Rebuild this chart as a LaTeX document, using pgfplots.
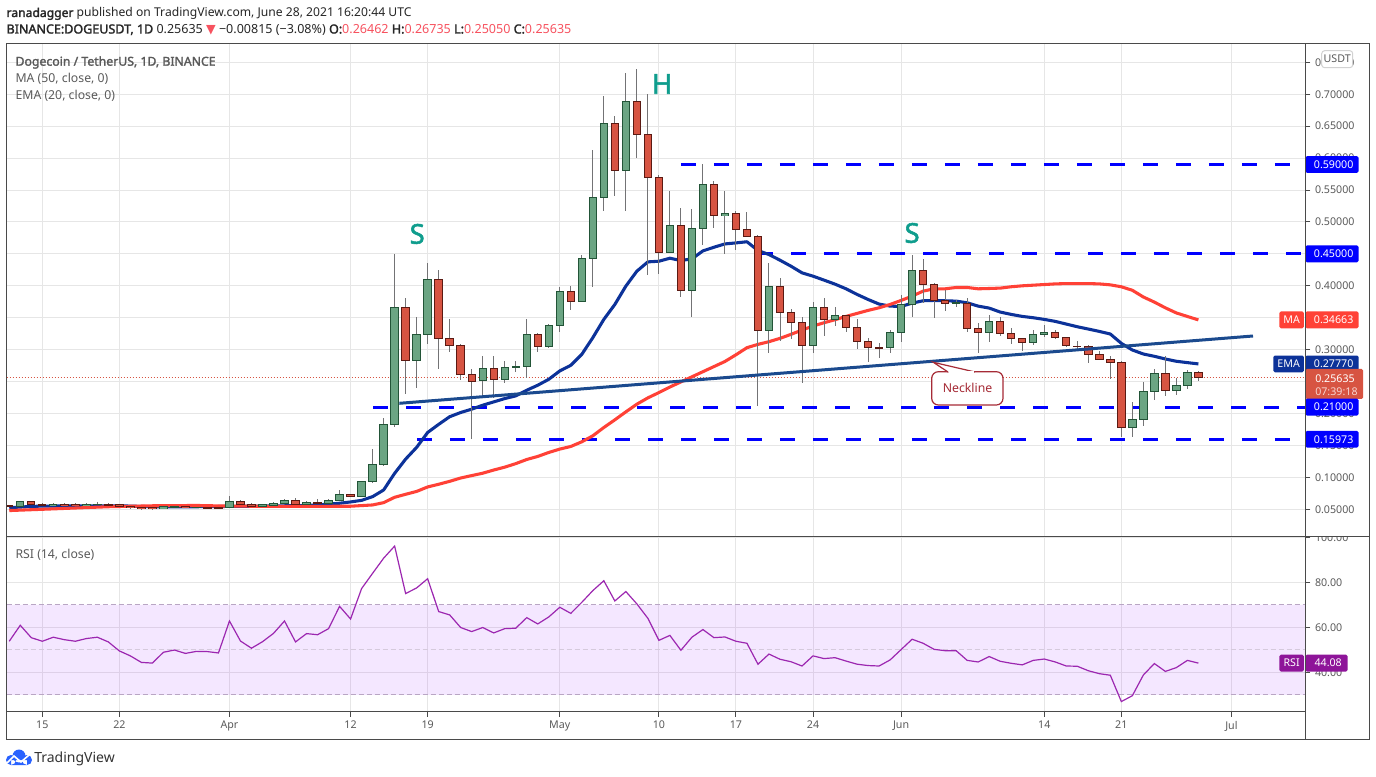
\documentclass[border=0pt]{standalone}
\usepackage{fontspec}
\setmainfont{Noto Sans}[AutoFakeBold=2]
\newfontfamily\symfont{DejaVu Sans}
\usepackage{pgfplots}
\usepackage{pgfplotstable}
\pgfplotsset{compat=1.18}

\definecolor{gridc}{HTML}{E6E6E6}
\definecolor{framec}{HTML}{4A4A4A}
\definecolor{tickc}{HTML}{5A5A5A}
\definecolor{upfill}{HTML}{6BA583}
\definecolor{upline}{HTML}{225437}
\definecolor{dnfill}{HTML}{D75442}
\definecolor{dnline}{HTML}{5B1A13}
\definecolor{wickc}{HTML}{737375}
\definecolor{emac}{HTML}{0C3299}
\definecolor{mac}{HTML}{FF4136}
\definecolor{neck}{HTML}{1B4A8E}
\definecolor{lvl}{HTML}{0000FF}
\definecolor{rsic}{HTML}{9C27B0}
\definecolor{rsitag}{HTML}{8E1599}
\definecolor{bandc}{HTML}{9915FF}
\definecolor{dashc}{HTML}{B9A6C4}
\definecolor{teal}{HTML}{0F9D8D}
\definecolor{callout}{HTML}{A62B36}
\definecolor{hdrred}{HTML}{F7525F}
\definecolor{tvblue}{HTML}{2962FF}

% day 0 = 15 March
\pgfplotstableread{
d o h l c
-2 .054 .0625 .0535 .062
1 .0557 .0595 .055 .058
4 .0555 .0595 .055 .0575
5 .0575 .061 .0565 .0578
11 .051 .0545 .0505 .054
12 .0535 .0555 .053 .055
14 .0525 .054 .052 .0535
17 .0526 .0708 .0525 .0625
20 .0542 .0585 .0538 .0578
21 .0557 .0612 .0555 .0594
22 .0589 .0655 .0585 .064
24 .0573 .0625 .0568 .061
26 .0594 .0655 .059 .064
27 .0635 .0805 .0628 .0735
29 .0698 .095 .0685 .0938
30 .0932 .145 .0915 .12
31 .12 .1927 .1185 .1828
32 .1828 .4505 .179 .3656
34 .2828 .3516 .2406 .3234
35 .3234 .436 .309 .4094
40 .2516 .2906 .2276 .2703
42 .2531 .2818 .248 .2719
43 .2719 .2818 .2651 .2735
44 .2734 .3484 .2557 .3234
46 .3047 .3406 .3026 .3375
47 .3375 .3984 .328 .3906
49 .375 .4484 .375 .4422
50 .4422 .613 .3979 .539
51 .539 .6974 .5167 .6547
53 .5812 .7328 .5167 .689
57 .4516 .549 .4516 .4938
59 .3922 .5203 .351 .4891
60 .4891 .5906 .4635 .5594
62 .5094 .5484 .4495 .5135
66 .3297 .436 .2948 .3984
70 .3062 .375 .2948 .3667
72 .3469 .3672 .337 .3531
77 .3031 .3312 .2948 .3266
78 .3266 .386 .312 .3703
79 .3703 .449 .351 .4234
83 .3719 .3781 .3667 .3734
86 .3266 .3547 .3125 .3437
90 .3115 .3307 .3068 .324
91 .324 .338 .3193 .3271
99 .1786 .2177 .1625 .1911
100 .1911 .249 .1797 .2349
101 .2349 .2698 .2219 .263
103 .2365 .2552 .2297 .2443
104 .2443 .2682 .2391 .2646
}\upcandles

\pgfplotstableread{
d o h l c
-3 .0555 .0565 .054 .0545
-1 .062 .0635 .0565 .0573
0 .058 .0595 .0555 .0565
2 .058 .0595 .0555 .056
3 .058 .0595 .0555 .0562
6 .0578 .0595 .0565 .0565
7 .0578 .0585 .0535 .0542
8 .055 .0555 .0505 .0525
9 .0535 .054 .0495 .051
10 .0535 .054 .0495 .051
13 .055 .0555 .052 .0525
15 .053 .0535 .0515 .0525
16 .053 .0535 .0505 .0522
18 .0625 .064 .0565 .0573
19 .0578 .0595 .054 .0542
23 .064 .0675 .0568 .0573
25 .061 .0655 .0585 .0594
28 .0735 .0745 .0685 .07
33 .3656 .381 .2307 .2828
36 .4094 .425 .2698 .3172
37 .3172 .3484 .2964 .3062
38 .3062 .3094 .2526 .261
39 .261 .2703 .16 .25
41 .2703 .2906 .2245 .2531
45 .3234 .3266 .2964 .3047
48 .3906 .4 .362 .375
52 .6547 .6661 .5401 .5812
54 .689 .7391 .5995 .6375
55 .6375 .7005 .4167 .5703
56 .5703 .5734 .4182 .4516
58 .4938 .5219 .3823 .3922
61 .5594 .564 .4901 .5094
63 .5135 .5172 .4557 .4875
64 .4875 .5156 .4766 .4766
65 .4766 .4802 .212 .3297
67 .3984 .4125 .3135 .3578
68 .3578 .3641 .3172 .3422
69 .3422 .3516 .2484 .3062
71 .3667 .3812 .3214 .3469
73 .3531 .3531 .3276 .3344
74 .3344 .3484 .301 .3125
75 .3125 .3187 .2807 .3031
76 .3031 .311 .287 .3029
80 .4234 .4422 .3734 .4016
81 .4016 .4047 .3495 .3766
82 .3766 .3937 .3604 .3719
84 .3719 .3812 .3281 .3328
85 .3328 .3422 .2948 .3266
87 .3437 .351 .3219 .3255
88 .3255 .3333 .3094 .3177
89 .3177 .3177 .2984 .3115
92 .3271 .3307 .316 .3193
93 .3193 .3193 .3047 .3068
94 .3057 .313 .3016 .3047
95 .3047 .3068 .2797 .2927
96 .2927 .2984 .2849 .2849
97 .2849 .2901 .2547 .2802
98 .2802 .2818 .1635 .1786
102 .263 .2901 .2281 .2365
105 .26462 .26735 .2505 .25635
}\dncandles

\pgfplotstableread{
d v
-3 .0525
-2 .0535
-1 .0545
0 .055
3 .0555
7 .0555
10 .054
14 .054
17 .0545
20 .055
24 .056
26 .058
27 .0595
28 .0615
29 .064
30 .0698
31 .0802
32 .1063
33 .1286
34 .147
35 .1703
36 .183
37 .195
38 .2016
39 .2068
40 .213
41 .2182
42 .2234
43 .2276
44 .2365
45 .2443
46 .2536
47 .2667
48 .2755
49 .2927
50 .3188
51 .3474
52 .3708
53 .3995
54 .4229
55 .4375
56 .4385
57 .4432
58 .4396
59 .4422
60 .4547
61 .4604
62 .4656
63 .4672
64 .4690
65 .4552
66 .449
67 .4401
68 .4307
69 .4203
70 .4151
71 .4089
72 .4026
73 .3953
74 .3865
75 .3786
76 .3714
77 .3682
78 .3677
79 .3729
80 .3766
81 .3771
82 .3766
83 .376
84 .3734
85 .3682
86 .3651
87 .3589
88 .3552
89 .3521
90 .35
91 .3474
92 .3443
93 .3401
94 .3359
95 .3323
96 .3286
97 .3245
98 .3099
99 .2995
100 .2932
101 .2896
102 .2854
103 .2818
104 .2797
105 .2777
}\ema

\pgfplotstableread{
d v
-3 .048
0 .050
3 .052
6 .054
10 .0555
14 .056
17 .055
22 .0545
28 .0548
30 .0568
31 .0604
32 .0688
33 .0735
34 .078
35 .085
36 .0892
37 .0938
38 .099
39 .1028
40 .1065
41 .1115
42 .116
43 .1215
44 .128
45 .1328
46 .139
47 .1443
48 .1484
49 .1557
50 .1651
51 .1781
52 .1901
53 .2026
54 .2146
55 .2245
56 .2328
57 .2415
58 .2495
59 .2575
60 .2655
61 .2735
62 .2815
63 .292
64 .3031
65 .3083
66 .3125
67 .3177
68 .324
69 .3307
70 .337
71 .3422
72 .3469
73 .3521
74 .3568
75 .3615
76 .3656
77 .3708
78 .3771
79 .3839
80 .3917
81 .3953
82 .3953
83 .3974
84 .3974
85 .3953
86 .3958
87 .3964
88 .3985
89 .4
90 .401
91 .402
92 .403
93 .4035
94 .4035
95 .4035
96 .403
97 .4015
98 .3985
99 .393
100 .3825
101 .3745
102 .3655
103 .3575
104 .352
105 .3466
}\mavg

\pgfplotstableread{
d v
-3 53.8
-2 60.9
-1 55.4
0 53.8
1 55.6
2 54.5
3 53.8
4 55
5 55.6
6 53.5
7 49.5
8 47.3
9 44.4
10 44.1
11 48.9
12 49.9
13 48.4
14 49.3
15 49.2
16 48.6
17 62.8
18 53.9
19 50.7
20 53.6
21 57.3
22 62.8
23 53.5
24 57.2
25 56.7
26 59.4
27 69.3
28 63.7
29 77.2
30 84
31 90.7
32 96.1
33 75
34 77.5
35 81.6
36 67
37 65.5
38 59.9
39 58.1
40 59.9
41 57.5
42 59.4
43 59.6
44 64.3
45 61.5
46 64.6
47 68.9
48 66.2
49 71.1
50 76.3
51 80.7
52 71.7
53 75.9
54 70.4
55 64
56 54.2
57 56.4
58 49.8
59 55.6
60 59
61 55.4
62 55.7
63 53.8
64 52.9
65 43.6
66 48.1
67 45.8
68 44.7
69 42.8
70 47.3
71 46.1
72 46.5
73 45
74 43.6
75 43
76 42.8
77 45.5
78 50.1
79 54.7
80 52.9
81 50.2
82 49.6
83 49.6
84 45.3
85 44.6
86 47
87 44.9
88 44
89 43.3
90 45.3
91 45.9
92 44.6
93 42.8
94 42.7
95 40.7
96 39.4
97 38.7
98 27
99 29.6
100 38.8
101 43.9
102 40.4
103 42.1
104 45.3
105 44.08
}\rsi

\pgfplotsset{
  pane/.style={
    scale only axis, clip=true,
    xmin=-3.25, xmax=114.71, width=974.1pt,
    xtick={0,7,17,28,35,47,56,63,70,78,91,98,108},
    xmajorgrids, ymajorgrids,
    grid style={line width=.75pt, gridc},
    axis line style={line width=.75pt, framec},
    tick style={line width=.75pt, framec},
    ytick pos=right, yticklabel pos=right,
    tick align=outside, major tick length=3.75pt,
    scaled y ticks=false,
    /pgf/number format/assume math mode=true,
  },
  % wicks and candle bodies are drawn as thick error bars around the mid point
  candlebar/.style 2 args={draw=none, mark=none, forget plot,
    error bars/.cd, y dir=both, y explicit, error mark=none,
    error bar style={line width=#1, draw=#2, solid}},
}
\newcommand\drawcandles[3]{%
  \addplot[candlebar={.75pt}{wickc}] table[x=d, y expr={(\thisrow{h}+\thisrow{l})/2}, y error expr={(\thisrow{h}-\thisrow{l})/2}] {#1};
  \addplot[candlebar={6.3pt}{#3}] table[x=d, y expr={(\thisrow{o}+\thisrow{c})/2}, y error expr={abs(\thisrow{o}-\thisrow{c})/2+0.0008}] {#1};
  \addplot[candlebar={4.8pt}{#2}] table[x=d, y expr={(\thisrow{o}+\thisrow{c})/2}, y error expr={max(abs(\thisrow{o}-\thisrow{c})/2-0.0008,0)}] {#1};
}

\tikzset{
  px/.style={x=.75pt, y=-.75pt, yshift=582pt},
  txt/.style={font=\fontsize{9.2}{11}\selectfont, inner sep=0pt, anchor=base west},
  tag/.style={rounded corners=1.2pt, minimum height=12.6pt, inner sep=0pt, outer sep=0pt, text=white, font=\fontsize{8}{10}\selectfont},
}

\begin{document}
\begin{tikzpicture}
\path[use as bounding box, fill=white] (0,0) rectangle (1032pt,582pt);

% RSI pane
\begin{axis}[pane, at={(4.875pt,48.375pt)}, anchor=south west, height=131.4pt,
    ymin=22.58, ymax=100.44, ytick={40,60,80,100},
    yticklabel style={/pgf/number format/.cd, fixed, fixed zerofill, precision=2, /tikz/.cd,
      font=\fontsize{8}{10}\selectfont, text=tickc},
    xticklabels={15,22,Apr,12,19,May,10,17,24,Jun,14,21,Jul},
    xtick pos=bottom,
    xticklabel style={font=\fontsize{8}{10}\selectfont, text=tickc}]
  \addplot[draw=none, fill=bandc, fill opacity=.1, forget plot] coordinates {(-3.25,70)(114.71,70)(114.71,30)(-3.25,30)} \closedcycle;
  \addplot[line width=.75pt, color=dashc, dash pattern=on 3.75pt off 2.25pt] coordinates {(-3.25,70)(114.71,70)};
  \addplot[line width=.75pt, color=dashc!60, dash pattern=on 3.75pt off 2.25pt] coordinates {(-3.25,50)(114.71,50)};
  \addplot[line width=.75pt, color=dashc, dash pattern=on 3.75pt off 2.25pt] coordinates {(-3.25,30)(114.71,30)};
  \addplot[line width=.9pt, rsic] table[x=d, y=v] {\rsi};
  \coordinate (trsi) at (axis cs:114.71,44.08);
\end{axis}
\fill[white, px] (1306,520) rectangle (1368,536);

% price pane
\begin{axis}[pane, at={(4.875pt,179.775pt)}, anchor=south west, height=369.75pt,
    ymin=0.0077, ymax=0.7798,
    ytick={.05,.10,.15,.20,.25,.30,.35,.40,.45,.50,.55,.60,.65,.70,.75},
    yticklabel style={/pgf/number format/.cd, fixed, fixed zerofill, precision=5, /tikz/.cd,
      font=\fontsize{8}{10}\selectfont, text=tickc},
    xticklabels={}, xtick style={draw=none}]
  \addplot[line width=2.25pt, lvl, dash pattern=on 11.25pt off 13.5pt] coordinates {(58,.59)(114.71,.59)};
  \addplot[line width=2.25pt, lvl, dash pattern=on 11.25pt off 13.5pt] coordinates {(65,.45)(114.71,.45)};
  \addplot[line width=2.25pt, lvl, dash pattern=on 11.25pt off 13.5pt] coordinates {(30.04,.21)(114.71,.21)};
  \addplot[line width=2.25pt, lvl, dash pattern=on 11.25pt off 13.5pt] coordinates {(34.03,.15973)(114.71,.15973)};
  \addplot[line width=.75pt, dnfill, dash pattern=on .75pt off 1.5pt] coordinates {(-3.25,.25635)(114.71,.25635)};
  \addplot[line width=2.3pt, emac, line join=round] table[x=d, y=v] {\ema};
  \addplot[line width=2.3pt, mac, line join=round] table[x=d, y=v] {\mavg};
  \drawcandles{\upcandles}{upfill}{upline}
  \drawcandles{\dncandles}{dnfill}{dnline}
  \addplot[line width=2.25pt, neck] coordinates {(32.43,.216)(109.96,.3214)};
  \node[teal, font=\fontsize{20.5}{21}\selectfont\bfseries] at (axis cs:34.05,.4812) {S};
  \node[teal, font=\fontsize{20.5}{21}\selectfont\bfseries] at (axis cs:56.3,.7161) {H};
  \node[teal, font=\fontsize{20.5}{21}\selectfont\bfseries] at (axis cs:79,.4827) {S};
  \coordinate (t59) at (axis cs:114.71,.59);
  \coordinate (t45) at (axis cs:114.71,.45);
  \coordinate (tma) at (axis cs:114.71,.34663);
  \coordinate (tema) at (axis cs:114.71,.2777);
  \coordinate (tlast) at (axis cs:114.71,.25635);
  \coordinate (t21) at (axis cs:114.71,.21);
  \coordinate (t16) at (axis cs:114.71,.15973);
\end{axis}

% price tags
\foreach \c/\col/\val in {t59/lvl/0.59000, t45/lvl/0.45000, tma/mac/0.34663, tema/emac/0.27770, t16/lvl/0.15973} {
  \node[tag, fill=\col, anchor=west, minimum width=40pt] at (\c) {\hspace*{2.5pt}\val};
}
\node[tag, fill=mac, anchor=east, minimum width=18.5pt] at ([xshift=-1pt]tma) {MA};
\node[tag, fill=emac, anchor=east, minimum width=23pt] at ([xshift=-1pt]tema) {EMA};
\node[tag, fill=dnfill, anchor=north west, minimum width=43.4pt, minimum height=22.5pt, yshift=6.45pt] at (tlast) {};
\node[tag, fill=lvl, anchor=west, minimum width=40pt] at (t21) {\hspace*{2.5pt}0.21000};
\node[tag, fill=rsitag, anchor=west, minimum width=31.8pt] at (trsi) {\hspace*{2.5pt}44.08};
\node[tag, fill=rsitag, anchor=east, minimum width=18.5pt] at ([xshift=-1pt]trsi) {RSI};

\begin{scope}[px]
  \draw[framec, line width=.75pt] (6.5,43.3) rectangle (1369.3,739.3);
  \draw[framec, line width=.75pt] (1305.3,43.3) -- (1305.3,739.3);
  \draw[framec, line width=.75pt] (6.5,711.5) -- (1305.3,711.5);
  \draw[framec, line width=.75pt] (6.5,536.3) -- (1369.3,536.3);

  \node[txt, font=\fontsize{8}{10}\selectfont, text=white] at (1315,382) {0.25635};
  \node[txt, font=\fontsize{8}{10}\selectfont, text=white!75!dnfill] at (1315,395) {07:39:18};

  % header
  \node[txt, font=\fontsize{9.1}{11}\selectfont, text=black!85] at (6.3,17) {\textbf{ranadagger} published on TradingView.com, June 28, 2021 16:20:44 UTC};
  \node[txt, font=\fontsize{9.4}{11}\selectfont, text=black!85] at (6.3,33.5) {\textbf{BINANCE:DOGEUSDT, 1D}\ 0.25635 {\symfont\color{hdrred}▼} −0.00815 (−3.08\%) \textbf{O:}{\color{hdrred}0.26462} \textbf{H:}{\color{hdrred}0.26735} \textbf{L:}{\color{hdrred}0.25050} \textbf{C:}{\color{hdrred}0.25635}};

  % legend
  \node[txt, text=tickc] at (15.3,65.7) {\textbf{Dogecoin / TetherUS, 1D, BINANCE}};
  \node[txt, text=tickc] at (15.3,82.3) {MA (50, close, 0)};
  \node[txt, text=tickc] at (15.3,99.3) {EMA (20, close, 0)};
  \node[txt, text=tickc] at (15.3,558) {RSI (14, close)};

  % USDT box
  \draw[fill=white, draw=gray!35, line width=.75pt, rounded corners=2.2pt] (1321.7,50.7) rectangle (1352.7,67.7);
  \node[font=\fontsize{8}{10}\selectfont, text=tickc, inner sep=0pt] at (1337.2,59) {USDT};

  % neckline callout
  \draw[callout, line width=.9pt, fill=white, rounded corners=5pt] (931.7,371.7) rectangle (1003,405);
  \draw[callout, line width=.9pt, fill=white] (948,372) -- (933.3,362.3) -- (975,372);
  \fill[white] (948.5,371) rectangle (974,373);
  \node[font=\fontsize{9.2}{11}\selectfont, text=callout, inner sep=0pt] at (967.5,388) {Neckline};

  % logo
  \fill[tvblue] (11,760) circle (5) (19,756) circle (6.5) (27,760) circle (5) (11,760) rectangle (27,765);
  \draw[white, line width=1.2pt] (7,763) -- (14,756) -- (21,762) -- (29,755);
  \node[anchor=base west, inner sep=0pt, font=\fontsize{10.5}{12}\selectfont, text=black!80] at (34,762.5) {TradingView};
\end{scope}
\end{tikzpicture}
\end{document}
